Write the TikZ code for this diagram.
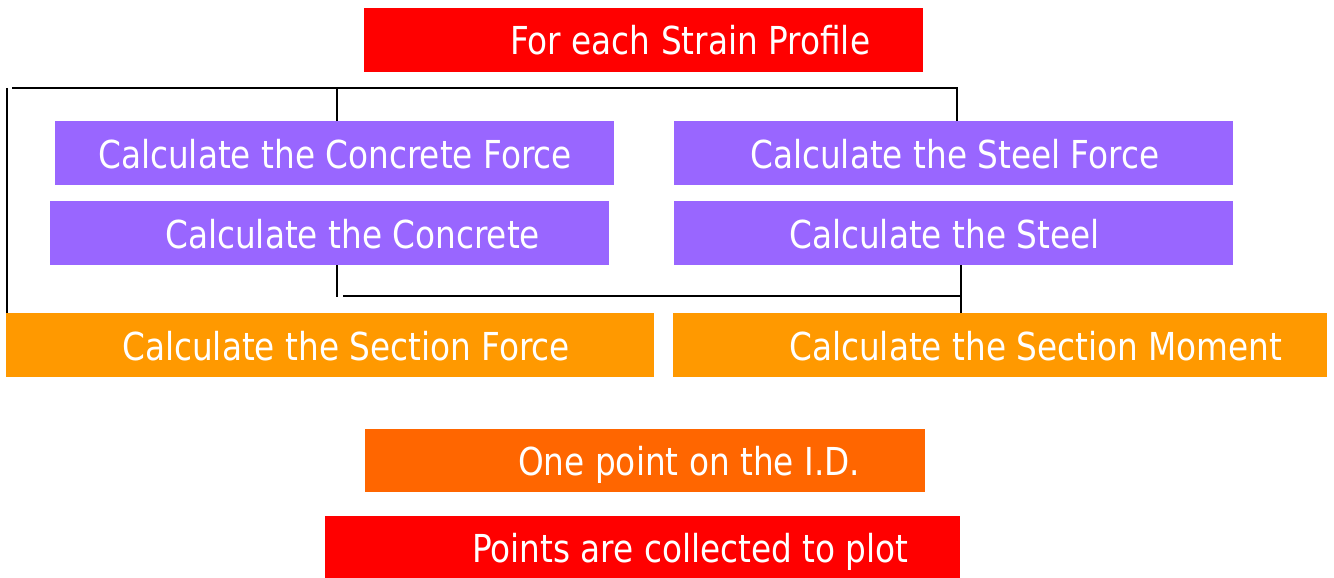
\documentclass[tikz,border=0pt]{standalone}
\usepackage{fontspec}
\setmainfont{DejaVu Sans}[FakeStretch=0.85]
\begin{document}
\begin{tikzpicture}[x=1pt,y=-1pt,
  box/.style={rectangle, draw=none, inner sep=0pt, outer sep=0pt},
  txt/.style={anchor=base west, inner sep=0pt, text=white, font=\fontsize{38.5}{40}\selectfont},
  conn/.style={draw=black, line width=2pt}]
\useasboundingbox (0,0) rectangle (1334,578);
\definecolor{cred}{HTML}{FF0000}
\definecolor{cpurple}{HTML}{9966FF}
\definecolor{corange}{HTML}{FF9900}
\definecolor{cdorange}{HTML}{FF6600}
% boxes
\node[box, fill=cred, minimum width=559, minimum height=64] (top) at (643.5,40) {};
\node[box, fill=cpurple, minimum width=559, minimum height=64] (cf) at (334.5,153) {};
\node[box, fill=cpurple, minimum width=559, minimum height=64] (sf) at (953.5,153) {};
\node[box, fill=cpurple, minimum width=559, minimum height=64] (cc) at (329.5,233) {};
\node[box, fill=cpurple, minimum width=559, minimum height=64] (sc) at (953.5,233) {};
\node[box, fill=corange, minimum width=648, minimum height=64] (secf) at (330,345) {};
\node[box, fill=corange, minimum width=654, minimum height=64] (secm) at (1000,345) {};
\node[box, fill=cdorange, minimum width=560, minimum height=63] (one) at (645,460.5) {};
\node[box, fill=cred, minimum width=635, minimum height=62] (pts) at (642.5,547) {};
% texts
\node[txt] (ttop) at (510,55) {For each Strain Profile};
\node[txt] (tcf) at (98,168) {Calculate the Concrete Force};
\node[txt] (tsf) at (750,168) {Calculate the Steel Force};
\node[txt] (tcc) at (165,248) {Calculate the Concrete};
\node[txt] (tsc) at (789,248) {Calculate the Steel};
\node[txt] (tsecf) at (122,360) {Calculate the Section Force};
\node[txt] (tsecm) at (789,360) {Calculate the Section Moment};
\node[txt] (tone) at (518,475) {One point on the I.D.};
\node[txt] (tpts) at (472,562) {Points are collected to plot};
% connectors
\coordinate (tl) at (7,88);
\coordinate (th) at (12,88);
\coordinate (tr) at (957,88);
\coordinate (ml) at (337,88);
\coordinate (bl) at (337,297);
\coordinate (bh) at (343,296);
\coordinate (br) at (961,296);
\draw[conn] (tl) -- (tl |- secf.north);
\draw[conn] (th) -- (tr) -- (tr |- sf.north);
\draw[conn] (ml) -- (ml |- cf.north);
\draw[conn] (ml |- cc.south) -- (bl);
\draw[conn] (bh) -- (br);
\draw[conn] (br |- sc.south) -- (br |- secm.north);
\end{tikzpicture}
\end{document}
